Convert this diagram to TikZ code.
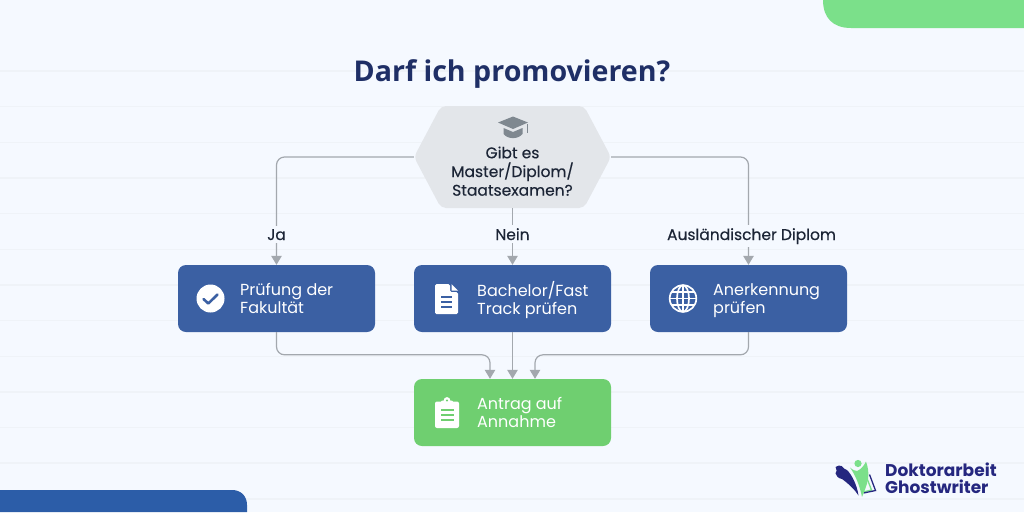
\documentclass[tikz,border=0pt]{standalone}
\usepackage{fontspec}
\setmainfont{Poppins}
\newfontfamily\medfont[FakeBold=0.25]{Poppins}
\newfontfamily\titlefont{Open Sans}
\usetikzlibrary{arrows.meta,calc}
\definecolor{bgc}{HTML}{F5F9FF}
\definecolor{linec}{HTML}{EFF3F8}
\definecolor{boxblue}{HTML}{3B60A3}
\definecolor{boxgreen}{HTML}{6FCF70}
\definecolor{topgreen}{HTML}{7BE08A}
\definecolor{botblue}{HTML}{2C5DA8}
\definecolor{hexc}{HTML}{E3E6EA}
\definecolor{iconc}{HTML}{7F8890}
\definecolor{conn}{HTML}{A3A8AE}
\definecolor{inkc}{HTML}{1C2536}
\definecolor{titlec}{HTML}{1F2F66}
\definecolor{logoc}{HTML}{25277F}
\newcommand{\lnst}{\rule[-4pt]{0pt}{17pt}}
\tikzset{
  x=1pt,y=-1pt,
  flowbox/.style={rectangle,rounded corners=8pt,minimum width=197pt,minimum height=67pt,inner sep=0pt,text=white},
  boxtext/.style={anchor=west,align=left,text=white,font=\fontsize{16}{18.2}\selectfont\mdseries,inner sep=0pt},
  lab/.style={anchor=base,fill=bgc,text=inkc,font=\medfont\fontsize{15.5}{16}\selectfont,inner xsep=1pt,inner ysep=3pt},
  conline/.style={draw=conn,line width=1.2pt,rounded corners=8pt},
  arr/.style={conline,-{Triangle[length=9pt,width=10.5pt,fill=conn]}},
}
\begin{document}
\begin{tikzpicture}
\useasboundingbox (0,0) rectangle (1024,512);
\fill[bgc] (0,0) rectangle (1024,512);
\foreach \k in {0,...,12}{\fill[linec] (0,{70.3+35.65*\k}) rectangle (1024,{71.7+35.65*\k});}
% corner shapes
\fill[topgreen] (823,0) .. controls (823,18) and (833,28) .. (851,28) -- (1024,28) -- (1024,0) -- cycle;
\fill[botblue] (0,512) -- (0,490) -- (232,490) .. controls (241,490) and (247,496) .. (247,505) -- (247,512) -- cycle;
% title
\node (title) at (512,74) {\titlefont\bfseries\fontsize{28.6}{32}\selectfont\textcolor{titlec}{Darf ich promovieren?}};
% hexagon
\fill[hexc,rounded corners=5pt] (414,157) -- (441,106) -- (584,106) -- (611,157) -- (584,208) -- (441,208) -- cycle;
\node[minimum width=197pt,minimum height=102pt,inner sep=0pt] (hex) at (512.5,157) {};
\node[align=center,text=inkc,font=\medfont\fontsize{15.5}{18.7}\selectfont,inner sep=0pt] (hextext) at (512.5,172.5) {\lnst Gibt es\\\lnst Master/Diplom/\\\lnst Staatsexamen?};
% graduation cap
\fill[iconc] (513,116.5) -- (528,122.5) -- (513,129) -- (498,122.5) -- cycle;
\fill[iconc] (503.5,128) -- (513,132) -- (522.5,128) -- (522.5,134) .. controls (518,139.5) and (508,139.5) .. (503.5,134) -- cycle;
\fill[iconc] (526.6,123.5) rectangle (527.8,133);
% boxes
\node[flowbox,fill=boxblue] (b1) at (276.5,298.5) {};
\node[flowbox,fill=boxblue] (b2) at (512.5,298.5) {};
\node[flowbox,fill=boxblue] (b3) at (748.5,298.5) {};
\node[flowbox,fill=boxgreen] (b4) at (512.5,412.5) {};
\node[boxtext] (t1) at (240,300) {\lnst Prüfung der\\\lnst Fakultät};
\node[boxtext] (t2) at (477,300) {\lnst Bachelor/Fast\\\lnst Track prüfen};
\node[boxtext] (t3) at (713,300) {\lnst Anerkennung\\\lnst prüfen};
\node[boxtext] (t4) at (477,414) {\lnst Antrag auf\\\lnst Annahme};
% connectors
\coordinate (m1) at ($(b4.north)+(-22.5,0)$);
\coordinate (m3) at ($(b4.north)+(22.5,0)$);
\draw[arr] (hex.west) -| (b1.north);
\draw[arr] (hex.south) -- (b2.north);
\draw[arr] (hex.east) -| (b3.north);
\draw[arr] (b1.south) |- ($(m1)+(0,-24)$) -- (m1);
\draw[arr] (b2.south) -- (b4.north);
\draw[arr] (b3.south) |- ($(m3)+(0,-24)$) -- (m3);
\node[lab] (l1) at (276.5,240) {Ja};
\node[lab] (l2) at (512.5,240) {Nein};
\node[lab] (l3) at (751.5,240) {Ausländischer Diplom};
% check icon
\fill[white] (210.5,298.5) circle[radius=14];
\draw[boxblue,line width=2.6pt,line cap=round,line join=round] (203.5,299) -- (208.3,303.5) -- (217.5,294.5);
% document icon
\fill[white,rounded corners=1.5pt] (435,284) -- (450,284) -- (450,292) -- (458,292) -- (458,314) -- (435,314) -- cycle;
\fill[white] (451.5,284) -- (458,290.5) -- (451.5,290.5) -- cycle;
\foreach \yy in {297,302,307}{\fill[boxblue] (441,\yy-0.9) rectangle (452,\yy+0.9);}
% clipboard icon
\fill[white,rounded corners=2pt] (435,401.5) rectangle (459,428);
\fill[white] (447,400.5) circle[radius=3.4];
\fill[white,rounded corners=1pt] (441,400.5) rectangle (453,405);
\fill[boxgreen] (447,400.5) circle[radius=1.1];
\foreach \yy in {410,415,420}{\fill[boxgreen] (440.5,\yy-0.9) rectangle (453.5,\yy+0.9);}
% globe icon
\begin{scope}[white,line width=1.7pt]
\draw (683,298.5) circle[radius=13.3];
\draw (683,298.5) ellipse[x radius=6,y radius=13.3];
\draw (670,298.5) -- (696,298.5);
\draw (672,292) -- (694,292);
\draw (672,305) -- (694,305);
\draw (683,285.5) -- (683,311.5);
\end{scope}
% logo
\draw[topgreen,line width=1.3pt] (865.5,474.5) -- (871.5,490) -- (863,492);
\draw[logoc,line width=1.3pt] (869.5,474.5) -- (875.5,490.5) -- (863.5,493);
\fill[topgreen] (850,467.5) .. controls (853,470) and (855,471) .. (857,471) .. controls (860,470) and (864,466) .. (866,461.5) .. controls (868,467) and (869,473) .. (868,479) .. controls (867,485) and (864.5,491) .. (862,497) .. controls (860,487) and (856,476) .. (850,467.5) -- cycle;
\fill[topgreen] (858,463.5) circle[radius=3.6];
\fill[logoc] (835.5,467) .. controls (837.5,465.5) and (840,465) .. (841.5,466) .. controls (843,468) and (845,469.5) .. (847,470) .. controls (852,475) and (857,485) .. (858.5,495.5) .. controls (855,490) and (849,484) .. (842,479) .. controls (838.5,478.5) and (836,476) .. (835.5,473.5) .. controls (837,472) and (837,469) .. (835.5,467) -- cycle;
\node[anchor=west,inner sep=0pt,align=left,text=logoc,font=\fontsize{17}{17}\selectfont\bfseries] (logo) at (885,478) {Doktorarbeit\\Ghostwriter};
\end{tikzpicture}
\end{document}
